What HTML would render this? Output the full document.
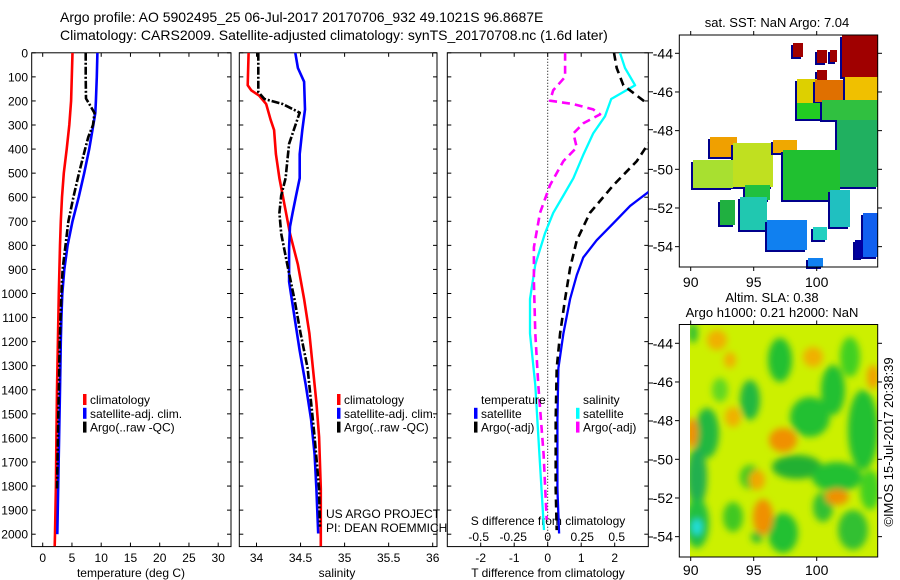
<!DOCTYPE html>
<html><head><meta charset="utf-8"><style>
body{margin:0;background:#fff;}
svg{display:block;font-family:"Liberation Sans",sans-serif;}
</style></head><body>
<svg id="fig" width="900" height="580" viewBox="0 0 900 580" xmlns="http://www.w3.org/2000/svg">
<defs>
<clipPath id="c1"><rect x="31.7" y="52.8" width="199.3" height="493.8"/></clipPath>
<clipPath id="c2"><rect x="239.3" y="52.8" width="197.7" height="493.8"/></clipPath>
<clipPath id="c3"><rect x="447.3" y="52.8" width="201" height="493.8"/></clipPath>
<clipPath id="cm2"><rect x="690" y="324.5" width="188" height="232.5"/></clipPath>
<filter id="blur" x="-20%" y="-20%" width="140%" height="140%"><feGaussianBlur stdDeviation="3.5"/></filter>
</defs>
<g font-size="14">
<text x="60" y="22">Argo profile: AO 5902495_25 06-Jul-2017 20170706_932 49.1021S 96.8687E</text>
<text x="60" y="40">Climatology: CARS2009. Satellite-adjusted climatology: synTS_20170708.nc (1.6d later)</text>
</g>
<g id="axes"></g>
<g id="series"></g>
<g id="maps"></g>
</svg>
<script>
// ---- Panel 1: temperature ----
const tClimDepth = [0,200,300,400,500,600,700,800,900,1000,1200,1400,1600,1800,2000,2050];
const tClimVal = [5.1,4.85,4.55,4.1,3.6,3.3,3.1,2.95,2.85,2.75,2.6,2.45,2.35,2.25,2.1,2.05];
const tSatDepth = [0,100,200,250,300,400,500,600,700,800,900,1000,1100,1200,1400,1600,1800,2000];
const tSatVal = [9.35,9.25,9.1,9.0,8.65,7.95,7.1,6.15,5.1,4.25,3.7,3.35,3.2,3.1,2.95,2.8,2.65,2.5];
const tArgoDepth = [0,100,190,210,250,300,350,400,500,600,700,800,900,1000,1200,1400,1600,1810];
const tArgoVal = [7.35,7.35,7.4,7.9,8.85,8.6,7.8,7.25,6.2,5.25,4.4,3.9,3.4,3.2,2.9,2.75,2.6,2.45];
const tTicks = [0,5,10,15,20,25,30];
// ---- Panel 2: salinity ----
const sClimDepth = [0,135,156,178,213,278,321,421,521,636,751,880,1023,1166,1310,1453,1596,1811,2050];
const sClimVal = [33.91,33.9,33.94,34.03,34.11,34.16,34.2,34.22,34.26,34.32,34.38,34.47,34.54,34.6,34.64,34.68,34.71,34.73,34.73];
const sSatDepth = [0,63,120,235,321,421,521,593,665,722,808,951,1095,1238,1381,1524,1668,1811,1997];
const sSatVal = [34.44,34.47,34.54,34.55,34.52,34.49,34.49,34.45,34.41,34.38,34.37,34.37,34.43,34.49,34.56,34.62,34.66,34.68,34.7];
const sArgoDepth = [0,163,192,213,249,292,378,450,521,593,665,751,880,1023,1166,1310,1453,1596,1811,1969];
const sArgoVal = [34.02,34.02,34.09,34.3,34.49,34.45,34.37,34.35,34.33,34.28,34.26,34.28,34.35,34.43,34.5,34.58,34.62,34.66,34.71,34.72];
const sTicks = [34,34.5,35,35.5,36];
// ---- Panel 3: differences ----
const dTSatDepth = [400,500,579,636,708,779,851,923,1023,1166,1310,1524,1811,1997];
const dTSatVal = [4.2,3.6,3.0,2.46,1.96,1.46,1.06,0.87,0.67,0.47,0.32,0.29,0.29,0.34];
const dTArgoDepth = [0,63,135,199,250,330,378,450,550,665,779,894,1023,1166,1310,1524,1811,1983];
const dTArgoVal = [1.98,2.06,2.26,2.86,3.6,3.4,3.0,2.66,1.96,1.26,0.87,0.67,0.52,0.37,0.27,0.24,0.24,0.27];
const dSSatDepth = [0,63,135,156,192,264,335,421,521,593,665,751,880,1023,1166,1381,1668,1983];
const dSSatVal = [0.524,0.56,0.633,0.57,0.46,0.415,0.33,0.26,0.186,0.114,0.04,-0.02,-0.09,-0.128,-0.128,-0.09,-0.06,-0.027];
const dSArgoDepth = [0,100,156,199,213,235,256,292,335,393,450,550,665,808,951,1166,1381,1668,1940];
const dSArgoVal = [0.126,0.126,0.04,0.017,0.186,0.33,0.38,0.26,0.186,0.21,0.114,0.017,-0.056,-0.1,-0.1,-0.09,-0.068,-0.03,-0.007];
const dTTicks = [-2,-1,0,1,2];
const dSTicks = [-0.5,-0.25,0,0.25,0.5];
const dSTickLabels = ['-0.5','-0.25','0','0.25','0.5'];
const depthTicks = [0,100,200,300,400,500,600,700,800,900,1000,1100,1200,1300,1400,1500,1600,1700,1800,1900,2000];

const NS='http://www.w3.org/2000/svg';
const yD = d => 52.8 + 0.2407*d;
const x1 = t => 42.7 + 5.85*t;
const x2 = s => 256.5 + 88.1*(s-34);
const x3T = t => 547.7 + 33.5*t;
const x3S = s => 547.7 + 138*s;
const BOT = 546.6, TOP = 52.8;

function mk(tag, attrs, parent){const e=document.createElementNS(NS,tag);for(const k in attrs)e.setAttribute(k,attrs[k]);parent.appendChild(e);return e;}
const axes=document.getElementById('axes'), series=document.getElementById('series'), maps=document.getElementById('maps');

function panel(name,L,R,ticks,fx,labels,xlabel,xlc){
  const g=mk('g',{},axes);
  
  
  const r=mk('rect',{x:L,y:TOP,width:R-L,height:BOT-TOP,fill:'none',stroke:'#000','stroke-width':1},g);
  
  
  ticks.forEach((t,i)=>{
    const x=fx(t);
    mk('line',{x1:x,x2:x,y1:BOT,y2:BOT-4,stroke:'#000'},g);
    mk('line',{x1:x,x2:x,y1:TOP,y2:TOP+4,stroke:'#000'},g);
    if(labels){const tx=mk('text',{x:x,y:562,'font-size':12,'text-anchor':'middle'},g);tx.textContent=labels[i];
      
      }
  });
  depthTicks.forEach(d=>{const y=yD(d);
    mk('line',{x1:L,x2:L+4,y1:y,y2:y,stroke:'#000'},g);
    mk('line',{x1:R,x2:R-4,y1:y,y2:y,stroke:'#000'},g);});
  const xl=mk('text',{x:xlc,y:577,'font-size':12,'text-anchor':'middle'},g);xl.textContent=xlabel;
  
  
}
panel('temperature-panel',31.7,231,tTicks,x1,tTicks.map(String),'temperature (deg C)',131);
panel('salinity-panel',239.3,437,sTicks,x2,['34','34.5','35','35.5','36'],'salinity',337);
panel('difference-panel',447.3,648.3,dTTicks,x3T,dTTicks.map(String),'T difference from climatology',548);
depthTicks.forEach(d=>{const t=mk('text',{x:28,y:yD(d)+4.5,'font-size':12,'text-anchor':'end'},axes);t.textContent=String(d);
  
  });
dSTicks.forEach((s,i)=>{const x=x3S(s);
  const t=mk('text',{x:x,y:541,'font-size':12,'text-anchor':'middle'},axes);t.textContent=dSTickLabels[i];
  
  });
{const t=mk('text',{x:548,y:525,'font-size':12,'text-anchor':'middle'},axes);t.textContent='S difference from climatology';
 
 }
[52.8,91.8,129.7,169.4,209,246,343.7,383,421,460,499,537].forEach(y=>mk('line',{x1:648.3,x2:653,y1:y,y2:y,stroke:'#000'},axes));
{const z=mk('line',{x1:x3T(0),x2:x3T(0),y1:TOP,y2:BOT,stroke:'#000','stroke-dasharray':'1,2'},axes);
 
 }

function line(name,depths,vals,fx,clip,color,w,dash){
  let d='';depths.forEach((dp,i)=>{d+=(i?'L':'M')+fx(vals[i]).toFixed(1)+','+yD(dp).toFixed(1);});
  const p=mk('path',{d:d,fill:'none',stroke:color,'stroke-width':w,'clip-path':'url(#'+clip+')','stroke-linejoin':'round'},series);
  if(dash)p.setAttribute('stroke-dasharray',dash);
  
  
}
line('temp-climatology-line',tClimDepth,tClimVal,x1,'c1','#ff0000',2.6);
line('temp-satellite-line',tSatDepth,tSatVal,x1,'c1','#0000ff',2.6);
line('temp-argo-line',tArgoDepth,tArgoVal,x1,'c1','#000',2.6,'8,2,2,2');
line('sal-climatology-line',sClimDepth,sClimVal,x2,'c2','#ff0000',2.6);
line('sal-satellite-line',sSatDepth,sSatVal,x2,'c2','#0000ff',2.6);
line('sal-argo-line',sArgoDepth,sArgoVal,x2,'c2','#000',2.6,'8,2,2,2');
line('dsal-satellite-line',dSSatDepth,dSSatVal,x3S,'c3','#00ffff',2.3);
line('dsal-argo-line',dSArgoDepth,dSArgoVal,x3S,'c3','#ff00ff',2.6,'8,5');
line('dtemp-satellite-line',dTSatDepth,dTSatVal,x3T,'c3','#0000ff',2.3);
line('dtemp-argo-line',dTArgoDepth,dTArgoVal,x3T,'c3','#000',2.6,'8,5');

function legend(name,x,y,items){
  const g=mk('g',{},series);
  
  
  items.forEach((it,i)=>{const yy=y+i*13.8;
    if(it[1]){mk('rect',{x:x,y:yy-10,width:3.5,height:11,fill:it[1]},g);}
    const t=mk('text',{x:x+(it[1]?7:0),y:yy,'font-size':12},g);t.textContent=it[0];
    
    });
}
legend('temp-legend',83,404,[['climatology','#f00'],['satellite-adj. clim.','#00f'],['Argo(..raw -QC)','#000']]);
legend('sal-legend',337,404,[['climatology','#f00'],['satellite-adj. clim.','#00f'],['Argo(..raw -QC)','#000']]);
legend('dtemp-legend',474,404,[['   ',''],['satellite','#00f'],['Argo(-adj)','#000']]);
legend('dsal-legend',576,404,[['   ',''],['satellite','#0ff'],['Argo(-adj)','#f0f']]);
{const t=mk('text',{x:481,y:404,'font-size':12},series);t.textContent='temperature';
 
 const s=mk('text',{x:583,y:404,'font-size':12},series);s.textContent='salinity';
 }
{const a=mk('text',{x:326,y:518,'font-size':12},series);a.textContent='US ARGO PROJECT';
 
 const b=mk('text',{x:326,y:532,'font-size':12},series);b.textContent='PI: DEAN ROEMMICH';
 }

// ---- maps ----
function mapAxes(name,top,bot,latY0,lonLabelY){
  const g=mk('g',{},maps);
  
  
  mk('rect',{x:679.3,y:top,width:198.4,height:bot-top,fill:'none',stroke:'#000'},g);
  [-44,-46,-48,-50,-52,-54].forEach((lat,i)=>{const y=latY0+i*38.67;
    mk('line',{x1:679.3,x2:675,y1:y,y2:y,stroke:'#000'},g);
    mk('line',{x1:877.7,x2:882,y1:y,y2:y,stroke:'#000'},g);
    const t=mk('text',{x:673,y:y+5,'font-size':14,'text-anchor':'end'},g);t.textContent=String(lat);
    });
  [90,95,100].forEach((lon,i)=>{const x=690.7+i*63;
    mk('line',{x1:x,x2:x,y1:bot,y2:bot+4,stroke:'#000'},g);
    mk('line',{x1:x,x2:x,y1:top,y2:top-4,stroke:'#000'},g);
    const t=mk('text',{x:x,y:lonLabelY,'font-size':14,'text-anchor':'middle'},g);t.textContent=String(lon);
    });
}
const sst=mk('g',{},maps);


[[842,35,36,42,'#a00000'],[793,43,10,14,'#a00000'],[817,50,10,13,'#a00000'],[817,70,10,10,'#a00000'],[830,50,7,12,'#a00000'],
 [797,79,20,24,'#ddd000'],[815,80,30,22,'#e07000'],[845,77,33,26,'#f0c000'],[797,103,25,16,'#22cc22'],[822,100,56,20,'#30c040'],
 [837,120,41,67,'#20b060'],[710,137,27,20,'#f0a000'],[733,143,40,44,'#c0e020'],[773,140,24,13,'#f0a800'],[693,160,40,28,'#a8e030'],
 [783,150,57,50,'#20c030'],[745,185,25,15,'#20c040'],[740,197,27,33,'#20c8b0'],[767,220,40,30,'#1080f0'],[813,227,14,13,'#20d0c0'],
 [863,213,15,44,'#1060f0'],[830,190,20,37,'#20c0c0'],[855,240,8,18,'#0000a0'],[808,258,15,9,'#1080f0'],[720,200,15,25,'#20b040']
].forEach(r=>{mk('rect',{x:r[0]-2,y:r[1]+2,width:r[2],height:r[3],fill:'#00008b'},sst);mk('rect',{x:r[0],y:r[1],width:r[2],height:r[3],fill:r[4]},sst);});
mapAxes('sst-map-axes',35,267,53.3,287);
{const t=mk('text',{x:777,y:27,'font-size':13,'text-anchor':'middle'},maps);t.textContent='sat. SST: NaN Argo: 7.04';
 }
const sla=mk('g',{'clip-path':'url(#cm2)'},maps);


mk('rect',{x:690,y:324.5,width:188,height:232.5,fill:'#ccf000'},sla);
const bl=mk('g',{filter:'url(#blur)'},sla);
[[780,360,12,22,'#20c030'],[750,400,10,20,'#20b840'],[707,433,12,25,'#20b840'],[697,477,10,30,'#20b050'],[697,523,12,25,'#20c040'],
 [810,417,20,20,'#20c030'],[833,390,12,25,'#20c030'],[850,357,10,20,'#40d020'],[863,430,15,40,'#20c030'],[797,467,25,12,'#20b030'],
 [837,477,25,15,'#20c030'],[783,533,15,20,'#20c030'],[823,507,10,15,'#30c030'],[853,530,15,20,'#30c030'],[733,517,10,15,'#40c820'],
 [750,477,10,12,'#40c820'],[693,333,5,10,'#30c030'],[757,537,6,6,'#30c030'],[720,390,8,12,'#60d820'],[870,490,10,20,'#40d020'],
 [692,433,6,15,'#f09000'],[783,440,14,12,'#f09000'],[813,357,10,10,'#f0b000'],[717,340,10,10,'#f0b000'],[730,360,6,8,'#f0b000'],
 [763,517,10,18,'#f09000'],[757,480,8,10,'#f0a800'],[837,497,12,8,'#f09000'],[873,377,6,12,'#f0a000'],[733,417,8,10,'#f0b000'],
 [697,527,5,8,'#20e0e0']
].forEach(e=>mk('ellipse',{cx:e[0],cy:e[1],rx:e[2],ry:e[3],fill:e[4]},bl));
mapAxes('sla-map-axes',324.5,557,343.3,575);
{const t=mk('text',{x:772,y:302,'font-size':13,'text-anchor':'middle'},maps);t.textContent='Altim. SLA: 0.38';
 
 const u=mk('text',{x:772,y:317,'font-size':13,'text-anchor':'middle'},maps);u.textContent='Argo h1000: 0.21 h2000: NaN';
 
 const v=mk('text',{x:0,y:0,'font-size':13,'text-anchor':'middle',transform:'translate(893,442) rotate(-90)'},maps);v.textContent='©IMOS 15-Jul-2017 20:38:39';
 }
</script>
</body></html>
